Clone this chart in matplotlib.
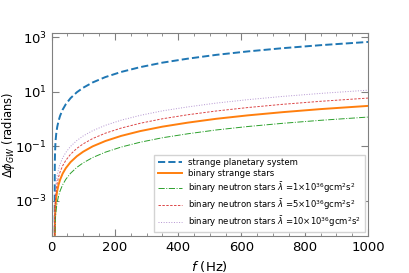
import matplotlib

matplotlib.use("Agg")
import matplotlib.pyplot as plt
from matplotlib.ticker import MultipleLocator, NullLocator, FixedLocator

freq = [10.05, 10.2, 10.5, 11, 12, 13, 15, 18, 22, 27, 35, 45, 60, 80, 100,
        130, 170, 220, 280, 350, 430, 520, 620, 730, 850, 1000]

planetary = [1e-6, 0.0103, 0.026, 0.053, 0.109, 0.168, 0.296, 0.51, 0.83, 1.30,
             2.17, 3.45, 5.76, 9.5, 13.9, 21.7, 34.1, 52.6, 78.8, 115, 161,
             222, 297, 390, 503, 660]
strange_stars = [1e-8, 4.7e-5, 1.18e-4, 2.4e-4, 5.0e-4, 7.6e-4, 1.35e-3, 2.3e-3,
                 3.8e-3, 5.9e-3, 9.9e-3, 0.0157, 0.0262, 0.043, 0.063, 0.099,
                 0.155, 0.239, 0.358, 0.52, 0.73, 1.01, 1.35, 1.77, 2.29, 3.0]
neutron_1 = [1e-8, 1.8e-5, 4.6e-5, 9.4e-5, 1.93e-4, 3.0e-4, 5.2e-4, 9.0e-4,
             1.47e-3, 2.3e-3, 3.85e-3, 6.1e-3, 0.0102, 0.0168, 0.0246, 0.0385,
             0.0605, 0.0933, 0.140, 0.204, 0.285, 0.394, 0.527, 0.69, 0.89, 1.17]
neutron_5 = [1e-8, 9.1e-5, 2.3e-4, 4.7e-4, 9.6e-4, 1.48e-3, 2.6e-3, 4.5e-3,
             7.3e-3, 0.0114, 0.0191, 0.0303, 0.0506, 0.0835, 0.122, 0.191,
             0.30, 0.462, 0.693, 1.01, 1.42, 1.95, 2.61, 3.43, 4.42, 5.8]
neutron_10 = [1e-8, 1.76e-4, 4.4e-4, 9.1e-4, 1.86e-3, 2.9e-3, 5.1e-3, 8.7e-3,
              0.0142, 0.0222, 0.0371, 0.059, 0.0985, 0.162, 0.238, 0.371,
              0.583, 0.90, 1.35, 1.97, 2.75, 3.80, 5.08, 6.67, 8.6, 11.3]

unit = r"$\times 10^{36}$gcm$^2$s$^2$"
labels = [
    "strange planetary system",
    "binary strange stars",
    r"binary neutron stars $\bar{\lambda}$ =1" + unit,
    r"binary neutron stars $\bar{\lambda}$ =5" + unit,
    r"binary neutron stars $\bar{\lambda}$ =10" + unit,
]

fig = plt.figure(figsize=(4.09, 2.73), dpi=100)
ax = fig.add_axes([0.126, 0.136, 0.774, 0.743])

ax.plot(freq, planetary, ls="--", lw=1.4, color="C0", label=labels[0])
ax.plot(freq, strange_stars, ls="-", lw=1.4, color="C1", label=labels[1])
ax.plot(freq, neutron_1, ls="-.", lw=0.7, color="C2", label=labels[2])
ax.plot(freq, neutron_5, ls="--", lw=0.7, color="C3", dashes=(2.5, 1.5),
        alpha=0.85, label=labels[3])
ax.plot(freq, neutron_10, ls=":", lw=0.7, color="C4", alpha=0.7,
        label=labels[4])

ax.set_yscale("log")
ax.set_xlim(0, 1000)
ax.set_ylim(5.2e-5, 1.4e3)
ax.yaxis.set_major_locator(FixedLocator([1e-3, 1e-1, 1e1, 1e3]))
ax.yaxis.set_minor_locator(NullLocator())
ax.xaxis.set_major_locator(MultipleLocator(200))
ax.xaxis.set_minor_locator(MultipleLocator(50))

ax.tick_params(which="both", direction="in", top=True, right=True,
               colors="gray", labelcolor="black", labelsize=9.5)
ax.tick_params(which="major", length=5)
ax.tick_params(which="minor", length=2.5)
for s in ax.spines.values():
    s.set_color("gray")

ax.set_xlabel(r"$f$ (Hz)", fontsize=9.5)
ax.set_ylabel(r"$\Delta\phi_{GW}$ (radians)", fontsize=8.3)
ax.yaxis.set_label_coords(-0.11, 0.5)

ax.legend(loc="lower right", fontsize=6.1, handlelength=2.8, framealpha=1,
          edgecolor="lightgray", fancybox=False, labelspacing=0.25,
          borderaxespad=0.4)

fig.savefig("out.png", dpi=100)
